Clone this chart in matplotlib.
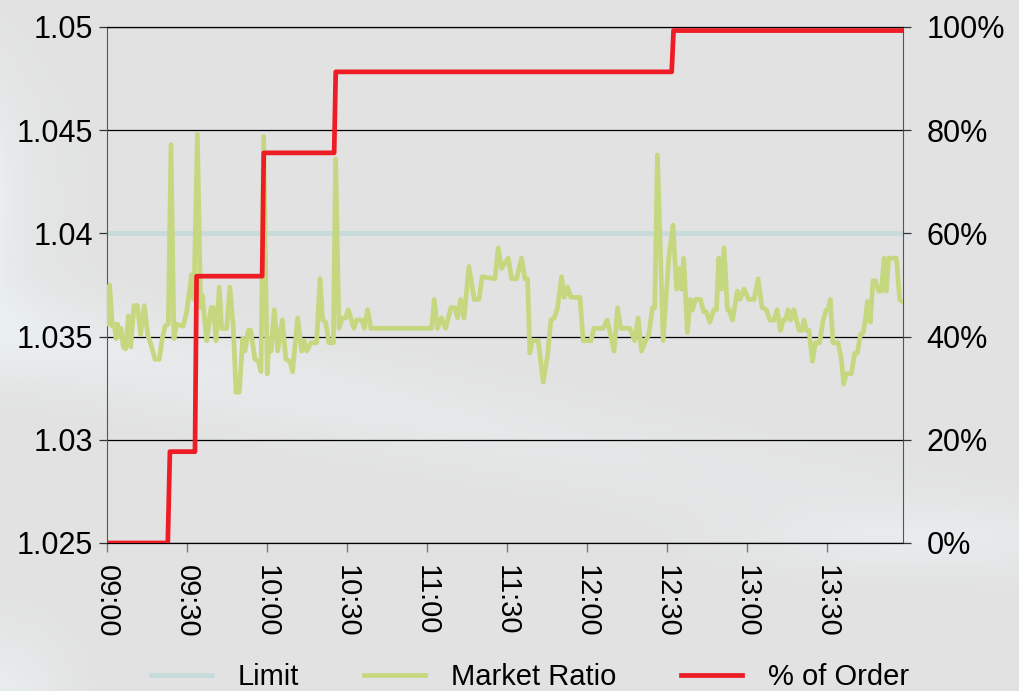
import matplotlib.pyplot as plt
import numpy as np
from matplotlib.ticker import FuncFormatter, PercentFormatter
from matplotlib.lines import Line2D
from matplotlib.colors import to_rgb

plt.rcParams['font.family'] = ['Liberation Sans', 'DejaVu Sans']

# minutes after 09:00
tick_min = [0, 30, 60, 90, 120, 150, 180, 210, 240, 270]
tick_lbl = ['09:00', '09:30', '10:00', '10:30', '11:00', '11:30', '12:00', '12:30', '13:00', '13:30']

limit = 1.04

# market ratio (minutes, value)
mr_t = [0.25, 1.0, 2.0, 2.75, 3.4, 4.0, 4.5, 5.25, 6.1, 7.0, 8.0, 8.9, 10.1, 11.4, 12.6, 14.0,
        15.25, 16.75, 18.0, 19.6, 20.75, 21.75, 23.0, 24.0, 25.1, 26.1, 28.6, 29.9, 30.5, 31.75,
        32.6, 33.9, 35.1, 35.75, 37.4, 39.0, 39.9, 40.9, 42.1, 43.0, 44.9, 46.1, 47.4, 48.4,
        49.6, 50.9, 51.75, 53.0, 53.9, 55.5, 56.75, 57.75, 58.75, 60.1, 60.75, 61.5, 62.75,
        64.0, 65.75, 67.1, 68.6, 69.6, 71.5, 73.0, 73.9, 74.9, 76.5, 78.6, 79.9, 80.9, 82.0,
        83.25, 84.9, 85.75, 87.0, 88.25, 89.5, 90.5, 92.6, 93.6, 95.75, 96.5, 97.75, 99.0,
        121.75, 122.75, 123.9, 125.5, 127.0, 129.0, 130.5, 131.5, 132.6, 133.9, 135.75, 137.75,
        139.5, 140.75, 145.5, 146.75, 148.0, 150.5, 151.75, 153.6, 155.5, 156.75, 157.75, 158.6,
        159.5, 161.75, 163.6, 165.25, 166.5, 167.75, 169.0, 170.5, 171.5, 172.75, 174.0, 177.4,
        178.6, 181.5, 182.7, 186.1, 187.6, 190.2, 191.5, 192.7, 196.1, 197.95, 199.2, 200.5,
        202.0, 203.2, 204.6, 205.45, 206.45, 208.6, 210.7, 212.3, 213.6, 214.6, 215.45, 216.3,
        217.7, 218.8, 219.6, 220.7, 222.6, 223.8, 224.8, 226.1, 227.6, 228.6, 229.45, 230.45,
        231.45, 232.7, 233.3, 234.6, 236.45, 237.45, 238.95, 240.7, 242.7, 244.2, 245.7, 247.3,
        248.6, 250.2, 251.3, 252.6, 253.6, 254.45, 255.45, 256.45, 257.6, 259.6, 260.7, 261.45,
        262.3, 263.3, 264.6, 265.7, 267.3, 268.6, 269.8, 270.45, 271.3, 272.3, 274.2, 275.45,
        276.3, 277.3, 279.2, 280.45, 281.45, 282.6, 283.6, 284.45, 285.2, 286.3, 287.3, 288.2,
        289.45, 290.45, 291.45, 292.3, 293.2, 296.1, 297.3, 298.2]
mr_v = [1.0356, 1.0375, 1.0355, 1.0356, 1.0349, 1.0356, 1.0350, 1.0354, 1.0345, 1.0344, 1.0360,
        1.0345, 1.0365, 1.0365, 1.0351, 1.0365, 1.0351, 1.0345, 1.0339, 1.0339, 1.0349, 1.0355,
        1.0356, 1.0443, 1.0349, 1.0356, 1.0355, 1.0362, 1.0368, 1.0380, 1.0368, 1.0448, 1.0364,
        1.0370, 1.0348, 1.0364, 1.0364, 1.0348, 1.0374, 1.0354, 1.0354, 1.0374, 1.0354, 1.0323,
        1.0323, 1.0349, 1.0343, 1.0353, 1.0353, 1.0339, 1.0338, 1.0333, 1.0447, 1.0332, 1.0349,
        1.0343, 1.0363, 1.0343, 1.0358, 1.0339, 1.0338, 1.0333, 1.0359, 1.0343, 1.0348, 1.0343,
        1.0347, 1.0347, 1.0378, 1.0358, 1.0357, 1.0347, 1.0347, 1.0436, 1.0354, 1.0359, 1.0359,
        1.0363, 1.0354, 1.0358, 1.0358, 1.0354, 1.0363, 1.0354, 1.0354, 1.0368, 1.0354, 1.0359,
        1.0354, 1.0364, 1.0364, 1.0359, 1.0368, 1.0359, 1.0384, 1.0368, 1.0368, 1.0379, 1.0378,
        1.0393, 1.0383, 1.0388, 1.0378, 1.0378, 1.0388, 1.0378, 1.0378, 1.0342, 1.0348, 1.0348,
        1.0328, 1.0341, 1.0358, 1.0359, 1.0364, 1.0379, 1.0369, 1.0374, 1.0369, 1.0369, 1.0348,
        1.0348, 1.0354, 1.0354, 1.0358, 1.0343, 1.0364, 1.0354, 1.0354, 1.0348, 1.0359, 1.0343,
        1.0348, 1.0351, 1.0364, 1.0364, 1.0438, 1.0348, 1.0388, 1.0404, 1.0373, 1.0383, 1.0373,
        1.0388, 1.0352, 1.0368, 1.0363, 1.0368, 1.0368, 1.0362, 1.0362, 1.0357, 1.0363, 1.0363,
        1.0388, 1.0373, 1.0393, 1.0363, 1.0363, 1.0358, 1.0372, 1.0368, 1.0373, 1.0368, 1.0368,
        1.0378, 1.0364, 1.0363, 1.0358, 1.0358, 1.0363, 1.0353, 1.0358, 1.0358, 1.0363, 1.0358,
        1.0363, 1.0353, 1.0353, 1.0358, 1.0353, 1.0353, 1.0338, 1.0347, 1.0347, 1.0358, 1.0363,
        1.0363, 1.0368, 1.0347, 1.0347, 1.0339, 1.0327, 1.0332, 1.0332, 1.0342, 1.0342, 1.0351,
        1.0352, 1.0358, 1.0367, 1.0357, 1.0377, 1.0377, 1.0372, 1.0372, 1.0388, 1.0372, 1.0388,
        1.0388, 1.0368, 1.0367]

# % of order filled (minutes, fraction)
ord_t = [0, 22.8, 23.6, 33.0, 33.6, 58.2, 58.8, 85.2, 85.8, 211.8, 212.5, 299]
ord_v = [0, 0, 0.177, 0.177, 0.517, 0.517, 0.756, 0.756, 0.913, 0.913, 0.993, 0.993]

bg = '#e2e2e2'
green = '#c5d880'
red = '#ee1c25'
lim_col = '#c7dbdb'

fig = plt.figure(figsize=(10.19, 6.91), dpi=100, facecolor=bg)

# soft watercolor-ish background
bga = fig.add_axes([0, 0, 1, 1], zorder=-5)
bga.axis('off')
yy, xx = np.mgrid[0:691:2, 0:1019:2]
glow = 0.55 * np.exp(-((yy - (330 + 0.2 * xx)) / 45.0) ** 2) * np.exp(-xx / 700.0)
glow += 0.6 * np.exp(-xx / 35.0) * np.exp(-((yy - 200) / 120.0) ** 2)
glow += 0.5 * np.exp(-(xx / 60.0) ** 2 - ((691 - yy) / 60.0) ** 2)
glow += 0.4 * np.exp(-((yy - 540) / 30.0) ** 2) * np.exp(-((xx - 900) / 150.0) ** 2)
glow = np.clip(glow, 0, 1)[..., None]
c0 = np.array(to_rgb(bg))
c1 = np.array(to_rgb('#eef6f9'))
bga.imshow(c0 * (1 - glow) + c1 * glow, extent=[0, 1019, 691, 0], aspect='auto',
           interpolation='bilinear')
bga.set_xlim(0, 1019)
bga.set_ylim(691, 0)

ax = fig.add_axes([0.105, 0.2142, 0.781, 0.7468])
ax.set_facecolor('none')

ax.axhline(limit, color=lim_col, lw=3.4, zorder=2)
ax.plot(mr_t, mr_v, color=green, lw=3.4, solid_joinstyle='round', zorder=3)

ax.set_xlim(0, 298.5)
ax.set_ylim(1.025, 1.05)
ax.set_yticks([1.025, 1.03, 1.035, 1.04, 1.045, 1.05])
ax.yaxis.set_major_formatter(FuncFormatter(lambda v, p: f'{v:g}'))
ax.set_xticks(tick_min)
ax.set_xticklabels(tick_lbl, rotation=270)
ax.grid(axis='y', color='black', lw=0.9, zorder=1)
ax.set_axisbelow(True)

for s in ['left', 'right']:
    ax.spines[s].set_color('#555555')
for s in ['top', 'bottom']:
    ax.spines[s].set_color('black')
    ax.spines[s].set_linewidth(0.9)

ax.tick_params(axis='y', labelsize=22, length=6, width=0.9, color='#333333', pad=4)
ax.tick_params(axis='x', labelsize=21, length=6.5, width=1, color='#777777', pad=9)

ax2 = ax.twinx()
ax2.plot(ord_t, ord_v, color=red, lw=3.4, zorder=4)
ax2.set_ylim(0, 1)
ax2.set_yticks([0, 0.2, 0.4, 0.6, 0.8, 1.0])
ax2.yaxis.set_major_formatter(PercentFormatter(1.0, decimals=0))
ax2.tick_params(axis='y', labelsize=22, length=6, width=0.9, color='#333333', pad=11)
for s in ax2.spines.values():
    s.set_visible(False)

handles = [Line2D([], [], color=lim_col, lw=3.4),
           Line2D([], [], color=green, lw=3.4),
           Line2D([], [], color=red, lw=3.4)]
fig.legend(handles, ['Limit', 'Market Ratio', '% of Order'], loc='center',
           bbox_to_anchor=(0.52, 0.02), ncol=3, frameon=False, fontsize=21,
           handlelength=2.1, handletextpad=0.9, columnspacing=2.2)

fig.savefig('out.png', dpi=100, facecolor=bg)
